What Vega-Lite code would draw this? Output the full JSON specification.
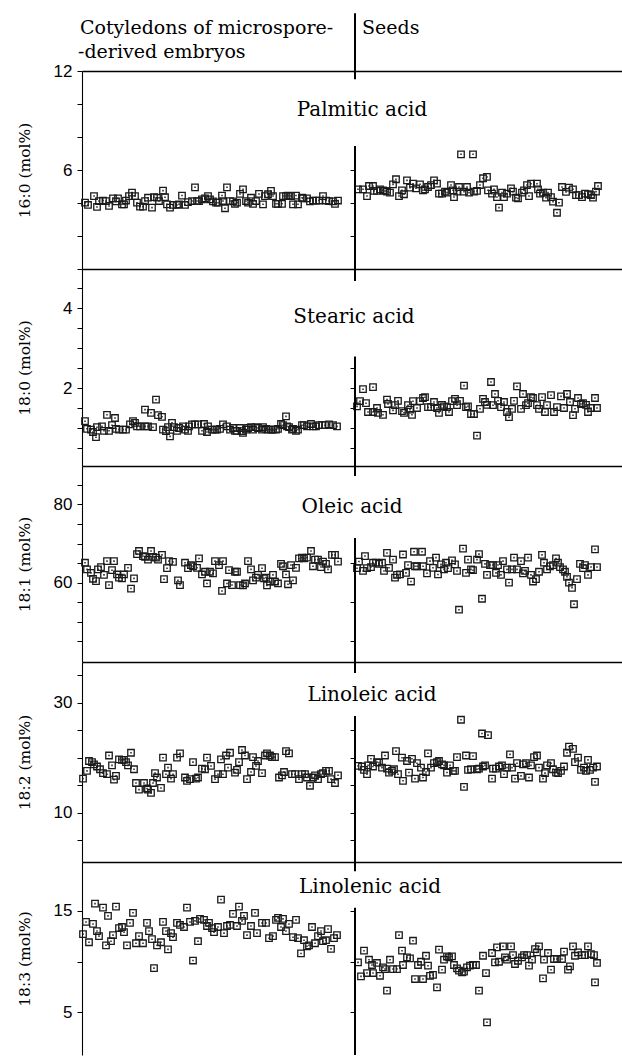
{
"$schema": "https://vega.github.io/schema/vega-lite/v6.json",
"padding": {"left": 17, "top": 12, "right": 0, "bottom": 0},
"background": "white",
"columns": 2,
"spacing": 0,
"bounds": "flush",
"align": "each",
"config": {
  "view": {"stroke": null},
  "font": "DejaVu Serif",
  "axis": {"domainColor": "black", "tickColor": "black", "labelColor": "black", "titleColor": "black", "grid": false, "labelFont": "Liberation Sans", "labelFontSize": 17, "titleFont": "DejaVu Serif", "titleFontSize": 15.5, "titleFontWeight": "normal", "tickSize": 5, "labelPadding": 5, "minExtent": 30, "maxExtent": 30, "titlePadding": 20, "domainWidth": 1.1, "tickWidth": 1, "labelOverlap": false}
},
"datasets": {
"e1": [{"i":3,"v":4.02},{"i":6,"v":3.88},{"i":12,"v":4.42},{"i":15,"v":3.76},{"i":17,"v":4.12},{"i":21,"v":4.15},{"i":24,"v":4.12},{"i":27,"v":3.82},{"i":31,"v":4.28},{"i":34,"v":4.1},{"i":36,"v":4.28},{"i":40,"v":3.92},{"i":42,"v":3.92},{"i":44,"v":4.15},{"i":47,"v":4.42},{"i":50,"v":4.63},{"i":53,"v":4.42},{"i":55,"v":4.02},{"i":58,"v":3.78},{"i":61,"v":3.78},{"i":63,"v":4.12},{"i":66,"v":4.32},{"i":70,"v":3.72},{"i":72,"v":4.35},{"i":75,"v":4.32},{"i":77,"v":4.12},{"i":81,"v":4.75},{"i":83,"v":4.35},{"i":85,"v":3.92},{"i":88,"v":3.72},{"i":91,"v":3.88},{"i":95,"v":3.88},{"i":97,"v":3.92},{"i":100,"v":4.45},{"i":103,"v":3.88},{"i":106,"v":4.05},{"i":110,"v":4.12},{"i":113,"v":4.95},{"i":115,"v":4.12},{"i":117,"v":4.12},{"i":120,"v":4.22},{"i":123,"v":4.28},{"i":126,"v":4.42},{"i":128,"v":4.22},{"i":131,"v":4.1},{"i":134,"v":4.02},{"i":136,"v":4.02},{"i":140,"v":4.45},{"i":141,"v":4.12},{"i":143,"v":3.68},{"i":145,"v":4.95},{"i":148,"v":4.12},{"i":151,"v":4.1},{"i":153,"v":3.95},{"i":155,"v":4.02},{"i":158,"v":4.55},{"i":161,"v":4.83},{"i":164,"v":4.12},{"i":166,"v":4.02},{"i":169,"v":4.32},{"i":171,"v":3.95},{"i":174,"v":4.12},{"i":177,"v":4.55},{"i":181,"v":3.92},{"i":183,"v":4.42},{"i":186,"v":4.53},{"i":189,"v":4.73},{"i":191,"v":4.42},{"i":194,"v":3.95},{"i":196,"v":3.95},{"i":200,"v":3.95},{"i":201,"v":4.42},{"i":204,"v":4.42},{"i":206,"v":4.45},{"i":209,"v":4.42},{"i":211,"v":3.92},{"i":214,"v":4.45},{"i":216,"v":3.92},{"i":220,"v":4.32},{"i":221,"v":4.28},{"i":225,"v":4.28},{"i":228,"v":4.1},{"i":231,"v":4.15},{"i":234,"v":4.15},{"i":237,"v":4.15},{"i":241,"v":4.42},{"i":244,"v":4.15},{"i":247,"v":4.12},{"i":251,"v":4.1},{"i":253,"v":3.95},{"i":256,"v":4.15}],
"s1": [{"i":3,"v":4.83},{"i":8,"v":4.83},{"i":12,"v":4.42},{"i":14,"v":5.03},{"i":18,"v":5.03},{"i":19,"v":4.73},{"i":22,"v":4.73},{"i":25,"v":4.83},{"i":28,"v":4.77},{"i":30,"v":4.73},{"i":32,"v":4.69},{"i":35,"v":4.63},{"i":38,"v":5.13},{"i":41,"v":5.44},{"i":44,"v":4.42},{"i":47,"v":4.77},{"i":49,"v":4.53},{"i":52,"v":5.37},{"i":55,"v":4.93},{"i":58,"v":5.17},{"i":61,"v":4.89},{"i":65,"v":5.13},{"i":68,"v":4.77},{"i":70,"v":4.83},{"i":73,"v":4.97},{"i":76,"v":5.09},{"i":79,"v":5.37},{"i":82,"v":5.17},{"i":84,"v":4.57},{"i":87,"v":4.57},{"i":90,"v":4.69},{"i":92,"v":4.63},{"i":96,"v":5.09},{"i":98,"v":4.77},{"i":99,"v":4.36},{"i":102,"v":4.69},{"i":104,"v":4.97},{"i":106,"v":6.95},{"i":109,"v":4.69},{"i":112,"v":4.97},{"i":114,"v":4.63},{"i":118,"v":6.95},{"i":119,"v":4.69},{"i":122,"v":4.73},{"i":125,"v":5.09},{"i":128,"v":5.5},{"i":132,"v":5.58},{"i":133,"v":4.77},{"i":137,"v":4.57},{"i":139,"v":4.83},{"i":142,"v":4.36},{"i":144,"v":3.72},{"i":147,"v":4.63},{"i":149,"v":4.36},{"i":152,"v":4.57},{"i":156,"v":4.89},{"i":158,"v":4.69},{"i":161,"v":4.32},{"i":163,"v":4.28},{"i":167,"v":4.63},{"i":169,"v":4.77},{"i":172,"v":5.09},{"i":174,"v":4.42},{"i":176,"v":5.17},{"i":182,"v":5.17},{"i":183,"v":4.83},{"i":185,"v":4.57},{"i":188,"v":4.63},{"i":191,"v":4.32},{"i":193,"v":4.63},{"i":196,"v":4.36},{"i":198,"v":4.08},{"i":202,"v":3.41},{"i":204,"v":4.02},{"i":207,"v":4.97},{"i":211,"v":4.67},{"i":214,"v":4.93},{"i":218,"v":4.83},{"i":221,"v":4.48},{"i":224,"v":4.48},{"i":227,"v":4.36},{"i":230,"v":4.57},{"i":233,"v":4.53},{"i":236,"v":4.48},{"i":238,"v":4.32},{"i":241,"v":4.69},{"i":243,"v":5.03}],
"e2": [{"i":3,"v":1.17},{"i":5,"v":0.98},{"i":9,"v":0.96},{"i":11,"v":0.9},{"i":14,"v":0.77},{"i":15,"v":1.02},{"i":20,"v":1.04},{"i":22,"v":0.93},{"i":25,"v":1.33},{"i":27,"v":0.93},{"i":30,"v":1.07},{"i":33,"v":1.25},{"i":34,"v":0.98},{"i":37,"v":0.96},{"i":41,"v":0.96},{"i":44,"v":0.96},{"i":48,"v":1.09},{"i":51,"v":1.17},{"i":53,"v":1.13},{"i":55,"v":1.04},{"i":58,"v":1.04},{"i":63,"v":1.04},{"i":63,"v":1.46},{"i":66,"v":1.04},{"i":69,"v":1.38},{"i":71,"v":1.02},{"i":74,"v":1.71},{"i":76,"v":1.32},{"i":80,"v":1.28},{"i":81,"v":0.96},{"i":84,"v":0.92},{"i":86,"v":1.02},{"i":88,"v":0.79},{"i":90,"v":1.13},{"i":92,"v":1.02},{"i":95,"v":0.93},{"i":97,"v":1.0},{"i":101,"v":1.04},{"i":103,"v":0.96},{"i":106,"v":0.93},{"i":107,"v":1.04},{"i":110,"v":1.09},{"i":113,"v":1.09},{"i":116,"v":1.09},{"i":120,"v":0.93},{"i":122,"v":1.1},{"i":125,"v":0.9},{"i":126,"v":1.04},{"i":130,"v":0.96},{"i":133,"v":0.96},{"i":135,"v":0.96},{"i":138,"v":0.98},{"i":141,"v":1.09},{"i":145,"v":1.04},{"i":148,"v":0.96},{"i":151,"v":1.0},{"i":153,"v":0.93},{"i":155,"v":0.93},{"i":158,"v":1.0},{"i":160,"v":0.92},{"i":161,"v":0.88},{"i":164,"v":0.96},{"i":166,"v":1.0},{"i":169,"v":1.02},{"i":171,"v":0.96},{"i":174,"v":1.02},{"i":176,"v":1.0},{"i":180,"v":0.96},{"i":181,"v":1.02},{"i":184,"v":0.98},{"i":186,"v":0.96},{"i":189,"v":0.96},{"i":191,"v":0.96},{"i":194,"v":0.96},{"i":196,"v":0.98},{"i":199,"v":1.1},{"i":201,"v":1.07},{"i":204,"v":1.29},{"i":205,"v":1.04},{"i":207,"v":1.02},{"i":210,"v":0.96},{"i":211,"v":0.98},{"i":214,"v":0.93},{"i":216,"v":0.96},{"i":220,"v":1.07},{"i":222,"v":1.07},{"i":225,"v":1.04},{"i":229,"v":1.1},{"i":231,"v":1.04},{"i":234,"v":1.04},{"i":237,"v":1.07},{"i":240,"v":1.07},{"i":243,"v":1.07},{"i":247,"v":1.09},{"i":251,"v":1.07},{"i":255,"v":1.04}],
"s2": [{"i":2,"v":1.54},{"i":5,"v":1.67},{"i":8,"v":1.97},{"i":11,"v":1.62},{"i":13,"v":1.4},{"i":18,"v":2.02},{"i":18,"v":1.4},{"i":23,"v":1.38},{"i":22,"v":1.5},{"i":28,"v":1.33},{"i":32,"v":1.71},{"i":33,"v":1.6},{"i":38,"v":1.44},{"i":40,"v":1.57},{"i":43,"v":1.68},{"i":47,"v":1.42},{"i":49,"v":1.38},{"i":53,"v":1.57},{"i":55,"v":1.46},{"i":57,"v":1.33},{"i":58,"v":1.67},{"i":62,"v":1.5},{"i":65,"v":1.67},{"i":68,"v":1.75},{"i":70,"v":1.77},{"i":73,"v":1.52},{"i":76,"v":1.52},{"i":79,"v":1.65},{"i":82,"v":1.5},{"i":84,"v":1.38},{"i":87,"v":1.58},{"i":89,"v":1.54},{"i":92,"v":1.52},{"i":94,"v":1.4},{"i":97,"v":1.67},{"i":100,"v":1.73},{"i":102,"v":1.57},{"i":105,"v":1.68},{"i":109,"v":2.06},{"i":111,"v":1.52},{"i":113,"v":1.54},{"i":116,"v":1.35},{"i":119,"v":1.35},{"i":122,"v":0.81},{"i":125,"v":1.48},{"i":128,"v":1.73},{"i":130,"v":1.65},{"i":132,"v":1.58},{"i":136,"v":2.15},{"i":138,"v":1.57},{"i":140,"v":1.85},{"i":143,"v":1.68},{"i":146,"v":1.52},{"i":149,"v":1.65},{"i":152,"v":1.4},{"i":154,"v":1.27},{"i":157,"v":1.48},{"i":159,"v":1.68},{"i":162,"v":2.04},{"i":166,"v":1.48},{"i":168,"v":1.85},{"i":171,"v":1.57},{"i":173,"v":1.62},{"i":176,"v":1.77},{"i":178,"v":1.75},{"i":182,"v":1.57},{"i":184,"v":1.48},{"i":187,"v":1.77},{"i":190,"v":1.4},{"i":192,"v":1.57},{"i":196,"v":1.82},{"i":199,"v":1.4},{"i":202,"v":1.52},{"i":206,"v":1.79},{"i":209,"v":1.5},{"i":212,"v":1.85},{"i":215,"v":1.65},{"i":218,"v":1.32},{"i":220,"v":1.48},{"i":223,"v":1.75},{"i":226,"v":1.6},{"i":228,"v":1.62},{"i":231,"v":1.58},{"i":233,"v":1.4},{"i":236,"v":1.5},{"i":240,"v":1.75},{"i":242,"v":1.5}],
"e3": [{"i":3,"v":65.1},{"i":5,"v":63.4},{"i":9,"v":62.5},{"i":11,"v":61.0},{"i":14,"v":60.4},{"i":16,"v":63.4},{"i":19,"v":64.0},{"i":22,"v":62.0},{"i":25,"v":65.5},{"i":27,"v":59.4},{"i":30,"v":63.2},{"i":32,"v":65.5},{"i":35,"v":62.1},{"i":37,"v":61.3},{"i":40,"v":61.1},{"i":42,"v":62.1},{"i":46,"v":63.8},{"i":49,"v":58.5},{"i":52,"v":61.1},{"i":55,"v":67.3},{"i":57,"v":68.1},{"i":61,"v":66.8},{"i":63,"v":66.6},{"i":66,"v":65.9},{"i":69,"v":68.1},{"i":71,"v":66.6},{"i":74,"v":66.4},{"i":76,"v":65.9},{"i":80,"v":67.1},{"i":82,"v":60.9},{"i":85,"v":63.7},{"i":87,"v":65.5},{"i":91,"v":65.3},{"i":96,"v":60.6},{"i":98,"v":59.4},{"i":103,"v":65.1},{"i":106,"v":63.7},{"i":109,"v":64.5},{"i":111,"v":64.2},{"i":115,"v":63.8},{"i":117,"v":66.2},{"i":120,"v":62.1},{"i":123,"v":62.8},{"i":125,"v":59.8},{"i":128,"v":62.8},{"i":131,"v":62.4},{"i":133,"v":65.5},{"i":137,"v":64.5},{"i":141,"v":65.5},{"i":140,"v":57.9},{"i":145,"v":59.8},{"i":147,"v":63.2},{"i":150,"v":59.4},{"i":153,"v":62.8},{"i":155,"v":62.8},{"i":158,"v":59.4},{"i":161,"v":59.3},{"i":163,"v":59.8},{"i":166,"v":65.5},{"i":169,"v":63.4},{"i":171,"v":60.6},{"i":174,"v":61.3},{"i":176,"v":62.0},{"i":180,"v":63.7},{"i":182,"v":61.1},{"i":184,"v":61.3},{"i":185,"v":59.3},{"i":188,"v":60.3},{"i":191,"v":62.0},{"i":193,"v":60.3},{"i":196,"v":59.8},{"i":199,"v":64.8},{"i":201,"v":64.2},{"i":204,"v":62.1},{"i":206,"v":59.6},{"i":209,"v":64.5},{"i":211,"v":60.6},{"i":214,"v":63.8},{"i":217,"v":66.2},{"i":220,"v":66.4},{"i":222,"v":66.2},{"i":225,"v":66.4},{"i":229,"v":68.1},{"i":231,"v":64.2},{"i":233,"v":65.9},{"i":236,"v":65.9},{"i":239,"v":64.0},{"i":241,"v":65.4},{"i":244,"v":64.8},{"i":246,"v":63.4},{"i":250,"v":67.1},{"i":253,"v":67.1},{"i":256,"v":65.4}],
"s3": [{"i":2,"v":63.7},{"i":4,"v":65.4},{"i":8,"v":63.0},{"i":10,"v":66.8},{"i":12,"v":63.7},{"i":16,"v":64.0},{"i":18,"v":65.1},{"i":21,"v":65.1},{"i":24,"v":64.8},{"i":27,"v":65.1},{"i":29,"v":63.0},{"i":32,"v":67.6},{"i":34,"v":63.8},{"i":38,"v":65.9},{"i":40,"v":61.3},{"i":42,"v":62.0},{"i":45,"v":62.1},{"i":48,"v":67.2},{"i":51,"v":62.5},{"i":53,"v":64.5},{"i":56,"v":60.3},{"i":59,"v":67.9},{"i":60,"v":64.2},{"i":62,"v":64.2},{"i":67,"v":67.9},{"i":68,"v":64.2},{"i":72,"v":62.4},{"i":75,"v":65.5},{"i":78,"v":63.8},{"i":81,"v":66.4},{"i":83,"v":62.1},{"i":86,"v":64.7},{"i":89,"v":63.4},{"i":91,"v":65.1},{"i":93,"v":63.7},{"i":97,"v":65.7},{"i":100,"v":64.7},{"i":102,"v":63.0},{"i":104,"v":53.1},{"i":108,"v":68.7},{"i":111,"v":62.5},{"i":113,"v":65.9},{"i":116,"v":63.4},{"i":118,"v":63.2},{"i":122,"v":65.9},{"i":124,"v":67.3},{"i":127,"v":55.9},{"i":130,"v":64.8},{"i":132,"v":62.0},{"i":135,"v":64.5},{"i":138,"v":64.5},{"i":141,"v":62.5},{"i":143,"v":64.5},{"i":146,"v":62.0},{"i":148,"v":65.5},{"i":152,"v":63.4},{"i":154,"v":60.0},{"i":157,"v":63.4},{"i":159,"v":66.4},{"i":162,"v":63.4},{"i":166,"v":65.5},{"i":168,"v":62.4},{"i":170,"v":63.0},{"i":173,"v":66.4},{"i":176,"v":62.0},{"i":178,"v":60.3},{"i":181,"v":60.9},{"i":184,"v":62.8},{"i":187,"v":67.1},{"i":189,"v":65.1},{"i":192,"v":63.4},{"i":195,"v":64.2},{"i":198,"v":64.5},{"i":201,"v":66.2},{"i":203,"v":65.1},{"i":205,"v":64.0},{"i":208,"v":63.4},{"i":210,"v":62.8},{"i":212,"v":61.5},{"i":214,"v":60.0},{"i":217,"v":58.7},{"i":219,"v":54.5},{"i":222,"v":60.9},{"i":225,"v":64.8},{"i":228,"v":63.7},{"i":230,"v":64.5},{"i":233,"v":62.0},{"i":236,"v":64.0},{"i":240,"v":68.5},{"i":242,"v":64.0}],
"e4": [{"i":1,"v":16.2},{"i":5,"v":17.6},{"i":7,"v":19.4},{"i":10,"v":19.2},{"i":12,"v":18.8},{"i":15,"v":18.4},{"i":18,"v":17.9},{"i":21,"v":17.2},{"i":25,"v":17.0},{"i":27,"v":20.4},{"i":30,"v":18.6},{"i":32,"v":16.0},{"i":34,"v":16.7},{"i":37,"v":19.7},{"i":40,"v":19.6},{"i":42,"v":19.6},{"i":44,"v":19.2},{"i":46,"v":18.6},{"i":49,"v":20.9},{"i":52,"v":17.9},{"i":54,"v":15.4},{"i":57,"v":14.2},{"i":62,"v":15.4},{"i":65,"v":14.4},{"i":66,"v":14.2},{"i":69,"v":13.6},{"i":71,"v":15.4},{"i":73,"v":17.2},{"i":75,"v":16.4},{"i":79,"v":14.5},{"i":81,"v":20.0},{"i":84,"v":17.0},{"i":86,"v":18.2},{"i":89,"v":16.2},{"i":91,"v":17.0},{"i":95,"v":20.0},{"i":98,"v":20.8},{"i":103,"v":16.4},{"i":105,"v":15.8},{"i":108,"v":16.1},{"i":111,"v":19.2},{"i":114,"v":16.2},{"i":116,"v":16.4},{"i":120,"v":18.0},{"i":123,"v":17.9},{"i":125,"v":20.0},{"i":129,"v":18.5},{"i":133,"v":16.1},{"i":136,"v":17.0},{"i":141,"v":17.0},{"i":139,"v":19.7},{"i":144,"v":20.4},{"i":148,"v":20.9},{"i":146,"v":18.2},{"i":153,"v":17.3},{"i":155,"v":17.8},{"i":157,"v":19.2},{"i":160,"v":21.4},{"i":163,"v":20.4},{"i":165,"v":16.1},{"i":169,"v":17.4},{"i":171,"v":20.1},{"i":174,"v":18.5},{"i":176,"v":19.4},{"i":180,"v":17.2},{"i":183,"v":20.4},{"i":185,"v":20.8},{"i":188,"v":20.4},{"i":190,"v":20.1},{"i":193,"v":20.1},{"i":197,"v":16.4},{"i":200,"v":16.8},{"i":202,"v":17.4},{"i":204,"v":21.2},{"i":207,"v":20.8},{"i":210,"v":17.0},{"i":213,"v":17.0},{"i":217,"v":16.1},{"i":220,"v":17.0},{"i":223,"v":17.0},{"i":225,"v":16.4},{"i":228,"v":14.9},{"i":231,"v":16.4},{"i":233,"v":16.8},{"i":236,"v":16.1},{"i":239,"v":17.0},{"i":241,"v":17.2},{"i":244,"v":17.6},{"i":247,"v":17.6},{"i":249,"v":16.1},{"i":253,"v":15.4},{"i":256,"v":16.8}],
"s4": [{"i":3,"v":18.5},{"i":7,"v":18.4},{"i":9,"v":17.8},{"i":12,"v":17.0},{"i":13,"v":18.6},{"i":16,"v":19.8},{"i":18,"v":18.4},{"i":22,"v":19.2},{"i":24,"v":19.1},{"i":27,"v":18.2},{"i":30,"v":20.4},{"i":32,"v":18.0},{"i":34,"v":17.3},{"i":37,"v":17.6},{"i":39,"v":17.9},{"i":41,"v":21.2},{"i":43,"v":17.0},{"i":47,"v":20.0},{"i":48,"v":15.8},{"i":52,"v":19.4},{"i":54,"v":17.3},{"i":57,"v":19.8},{"i":60,"v":16.2},{"i":62,"v":19.0},{"i":66,"v":18.2},{"i":68,"v":16.4},{"i":71,"v":17.4},{"i":73,"v":20.8},{"i":76,"v":18.2},{"i":79,"v":19.0},{"i":82,"v":19.2},{"i":84,"v":19.4},{"i":87,"v":18.8},{"i":89,"v":18.6},{"i":92,"v":17.3},{"i":95,"v":18.6},{"i":98,"v":17.6},{"i":100,"v":17.6},{"i":102,"v":20.1},{"i":106,"v":26.9},{"i":109,"v":14.7},{"i":111,"v":20.4},{"i":113,"v":17.8},{"i":116,"v":17.9},{"i":118,"v":20.3},{"i":122,"v":17.9},{"i":124,"v":18.0},{"i":127,"v":24.4},{"i":128,"v":18.4},{"i":130,"v":18.6},{"i":133,"v":24.1},{"i":137,"v":16.2},{"i":138,"v":18.0},{"i":141,"v":18.0},{"i":144,"v":18.4},{"i":147,"v":18.6},{"i":149,"v":17.0},{"i":152,"v":18.2},{"i":155,"v":20.6},{"i":157,"v":18.2},{"i":160,"v":16.2},{"i":162,"v":19.0},{"i":166,"v":16.7},{"i":168,"v":18.8},{"i":171,"v":19.0},{"i":174,"v":16.4},{"i":176,"v":18.6},{"i":179,"v":20.1},{"i":182,"v":20.4},{"i":184,"v":18.2},{"i":188,"v":16.2},{"i":190,"v":17.2},{"i":192,"v":18.6},{"i":196,"v":19.0},{"i":198,"v":17.9},{"i":201,"v":17.3},{"i":203,"v":17.2},{"i":206,"v":17.6},{"i":209,"v":18.4},{"i":212,"v":20.9},{"i":214,"v":22.0},{"i":218,"v":21.6},{"i":220,"v":19.2},{"i":223,"v":20.0},{"i":226,"v":17.8},{"i":229,"v":18.2},{"i":231,"v":17.6},{"i":233,"v":19.6},{"i":235,"v":17.8},{"i":238,"v":18.2},{"i":240,"v":15.6},{"i":242,"v":18.4}],
"e5": [{"i":1,"v":12.7},{"i":4,"v":13.9},{"i":7,"v":11.9},{"i":11,"v":13.7},{"i":13,"v":15.7},{"i":15,"v":13.0},{"i":17,"v":12.5},{"i":21,"v":15.3},{"i":24,"v":11.6},{"i":26,"v":14.5},{"i":29,"v":12.0},{"i":31,"v":12.6},{"i":34,"v":15.4},{"i":37,"v":13.3},{"i":40,"v":13.4},{"i":42,"v":12.9},{"i":45,"v":11.6},{"i":48,"v":13.8},{"i":51,"v":14.8},{"i":54,"v":11.8},{"i":57,"v":12.5},{"i":61,"v":11.8},{"i":65,"v":13.8},{"i":67,"v":13.0},{"i":70,"v":12.2},{"i":72,"v":9.35},{"i":75,"v":11.6},{"i":79,"v":11.9},{"i":81,"v":13.9},{"i":84,"v":13.0},{"i":86,"v":11.2},{"i":89,"v":12.8},{"i":91,"v":12.4},{"i":95,"v":13.8},{"i":98,"v":13.6},{"i":102,"v":13.4},{"i":105,"v":15.3},{"i":108,"v":13.9},{"i":111,"v":10.1},{"i":113,"v":14.0},{"i":116,"v":12.0},{"i":118,"v":14.2},{"i":122,"v":14.1},{"i":125,"v":13.5},{"i":127,"v":13.8},{"i":130,"v":13.3},{"i":132,"v":12.9},{"i":136,"v":13.4},{"i":139,"v":16.1},{"i":142,"v":12.8},{"i":145,"v":13.5},{"i":148,"v":13.6},{"i":151,"v":14.7},{"i":155,"v":13.5},{"i":157,"v":15.4},{"i":160,"v":14.0},{"i":162,"v":14.5},{"i":165,"v":12.6},{"i":169,"v":13.5},{"i":173,"v":14.8},{"i":175,"v":12.8},{"i":180,"v":13.8},{"i":184,"v":13.8},{"i":187,"v":12.3},{"i":191,"v":12.5},{"i":194,"v":14.1},{"i":196,"v":14.3},{"i":199,"v":13.4},{"i":201,"v":14.2},{"i":204,"v":13.0},{"i":207,"v":13.7},{"i":211,"v":12.4},{"i":214,"v":14.1},{"i":216,"v":12.3},{"i":219,"v":10.8},{"i":222,"v":12.1},{"i":225,"v":11.5},{"i":227,"v":11.6},{"i":230,"v":13.4},{"i":233,"v":11.8},{"i":236,"v":12.5},{"i":239,"v":13.0},{"i":241,"v":12.0},{"i":244,"v":12.1},{"i":246,"v":13.2},{"i":249,"v":11.25},{"i":252,"v":12.3},{"i":255,"v":12.6}],
"s5": [{"i":3,"v":9.92},{"i":6,"v":8.54},{"i":9,"v":11.07},{"i":12,"v":8.87},{"i":14,"v":10.18},{"i":17,"v":9.66},{"i":18,"v":8.87},{"i":22,"v":9.86},{"i":25,"v":8.6},{"i":28,"v":9.43},{"i":30,"v":9.26},{"i":32,"v":7.13},{"i":35,"v":10.18},{"i":38,"v":9.26},{"i":42,"v":9.26},{"i":44,"v":12.6},{"i":47,"v":11.07},{"i":48,"v":9.66},{"i":52,"v":10.41},{"i":55,"v":10.31},{"i":58,"v":12.05},{"i":60,"v":8.28},{"i":63,"v":9.66},{"i":66,"v":9.98},{"i":68,"v":8.28},{"i":71,"v":10.57},{"i":73,"v":9.59},{"i":75,"v":8.6},{"i":78,"v":8.68},{"i":82,"v":7.46},{"i":84,"v":11.17},{"i":87,"v":9.2},{"i":89,"v":10.18},{"i":92,"v":10.51},{"i":94,"v":10.41},{"i":97,"v":10.51},{"i":99,"v":9.66},{"i":102,"v":9.33},{"i":104,"v":9.1},{"i":107,"v":8.93},{"i":109,"v":9.0},{"i":112,"v":9.43},{"i":115,"v":9.59},{"i":118,"v":9.66},{"i":121,"v":9.66},{"i":124,"v":7.13},{"i":128,"v":10.57},{"i":131,"v":8.87},{"i":132,"v":4.02},{"i":137,"v":10.84},{"i":140,"v":9.92},{"i":142,"v":11.39},{"i":144,"v":9.98},{"i":148,"v":11.49},{"i":150,"v":10.41},{"i":152,"v":10.18},{"i":156,"v":11.49},{"i":158,"v":10.64},{"i":160,"v":9.76},{"i":163,"v":10.08},{"i":167,"v":10.41},{"i":169,"v":10.64},{"i":172,"v":10.64},{"i":174,"v":9.59},{"i":177,"v":10.18},{"i":180,"v":11.23},{"i":182,"v":10.9},{"i":184,"v":11.49},{"i":188,"v":8.35},{"i":189,"v":10.18},{"i":193,"v":10.84},{"i":196,"v":9.2},{"i":199,"v":10.25},{"i":202,"v":10.25},{"i":207,"v":10.25},{"i":209,"v":10.97},{"i":213,"v":9.2},{"i":215,"v":9.53},{"i":218,"v":11.49},{"i":220,"v":10.57},{"i":223,"v":10.9},{"i":227,"v":10.64},{"i":230,"v":10.64},{"i":233,"v":11.49},{"i":236,"v":10.74},{"i":239,"v":10.64},{"i":240,"v":7.95},{"i":242,"v":9.86}]
},
"concat": [
{"width": 273, "height": 198, "data": {"name": "e1"},
 "encoding": {"x": {"field": "i", "type": "quantitative", "scale": {"domain": [0, 273], "nice": false}, "axis": {"orient": "top", "domain": true, "ticks": false, "labels": false, "title": null, "domainWidth": 1.3, "minExtent": 0, "maxExtent": 0}},
  "y": {"field": "v", "type": "quantitative", "scale": {"domain": [0, 12], "nice": false, "zero": false}, "axis": {"title": "16:0 (mol%)", "values": [0, 2, 4, 6, 8, 10, 12], "labelExpr": "datum.value == 6 ? '6' : datum.value == 12 ? '12' : ''"}}},
 "layer": [{"mark": {"type": "point", "shape": "square", "filled": false, "stroke": "#1a1a1a", "strokeWidth": 1.3, "size": 42, "opacity": 1}},
  {"mark": {"type": "point", "shape": "square", "filled": true, "fill": "#1a1a1a", "size": 2.5, "strokeWidth": 0, "opacity": 0.9}}]},
{"width": 267, "height": 198,
 "layer": [
  {"data": {"name": "s1"}, "mark": {"type": "point", "shape": "square", "filled": false, "stroke": "#1a1a1a", "strokeWidth": 1.3, "size": 42, "opacity": 1},
   "encoding": {"x": {"field": "i", "type": "quantitative", "scale": {"domain": [0, 267], "nice": false}, "axis": {"orient": "top", "domain": true, "ticks": false, "labels": false, "title": null, "domainWidth": 1.3, "minExtent": 0, "maxExtent": 0}},
    "y": {"field": "v", "type": "quantitative", "scale": {"domain": [0, 12], "nice": false, "zero": false}, "axis": {"title": null, "domain": false, "labels": false, "values": [0, 1, 2, 3, 4, 5, 6, 7]}}}},
  {"data": {"name": "s1"}, "mark": {"type": "point", "shape": "square", "filled": true, "fill": "#1a1a1a", "size": 2.5, "strokeWidth": 0, "opacity": 0.9},
   "encoding": {"x": {"field": "i", "type": "quantitative"}, "y": {"field": "v", "type": "quantitative"}}},
  {"data": {"values": [{}]}, "mark": {"type": "rule", "color": "black", "strokeWidth": 2}, "encoding": {"x": {"datum": 0}, "y": {"datum": 7.45}, "y2": {"datum": 0}}},
  {"data": {"values": [{}]}, "mark": {"type": "rule", "color": "black", "strokeWidth": 2}, "encoding": {"x": {"datum": 0}, "y": {"datum": 15.5}, "y2": {"datum": 11.5}}},
  {"data": {"values": [{}]}, "mark": {"type": "text", "font": "DejaVu Serif", "fontSize": 19, "align": "left", "baseline": "alphabetic", "color": "black"}, "encoding": {"x": {"datum": -275}, "y": {"datum": 14.24}, "text": {"value": "Cotyledons of microspore-"}}},
  {"data": {"values": [{}]}, "mark": {"type": "text", "font": "DejaVu Serif", "fontSize": 19, "align": "left", "baseline": "alphabetic", "color": "black"}, "encoding": {"x": {"datum": -277}, "y": {"datum": 12.79}, "text": {"value": "-derived embryos"}}},
  {"data": {"values": [{}]}, "mark": {"type": "text", "font": "DejaVu Serif", "fontSize": 19, "align": "left", "baseline": "alphabetic", "color": "black"}, "encoding": {"x": {"datum": 7}, "y": {"datum": 14.24}, "text": {"value": "Seeds"}}},
  {"data": {"values": [{}]}, "mark": {"type": "text", "font": "DejaVu Serif", "fontSize": 20, "align": "center", "baseline": "alphabetic", "color": "black"}, "encoding": {"x": {"datum": 7}, "y": {"datum": 9.27}, "text": {"value": "Palmitic acid"}}}
 ]},
{"width": 273, "height": 197, "data": {"name": "e2"},
 "encoding": {"x": {"field": "i", "type": "quantitative", "scale": {"domain": [0, 273], "nice": false}, "axis": {"orient": "top", "domain": true, "ticks": false, "labels": false, "title": null, "domainWidth": 1.3, "minExtent": 0, "maxExtent": 0}},
  "y": {"field": "v", "type": "quantitative", "scale": {"domain": [0.05, 4.975], "nice": false, "zero": false}, "axis": {"title": "18:0 (mol%)", "values": [0.5, 1, 1.5, 2, 2.5, 3, 3.5, 4, 4.5], "labelExpr": "datum.value == 2 ? '2' : datum.value == 4 ? '4' : ''"}}},
 "layer": [{"mark": {"type": "point", "shape": "square", "filled": false, "stroke": "#1a1a1a", "strokeWidth": 1.3, "size": 42, "opacity": 1}},
  {"mark": {"type": "point", "shape": "square", "filled": true, "fill": "#1a1a1a", "size": 2.5, "strokeWidth": 0, "opacity": 0.9}}]},
{"width": 267, "height": 197,
 "layer": [
  {"data": {"name": "s2"}, "mark": {"type": "point", "shape": "square", "filled": false, "stroke": "#1a1a1a", "strokeWidth": 1.3, "size": 42, "opacity": 1},
   "encoding": {"x": {"field": "i", "type": "quantitative", "scale": {"domain": [0, 267], "nice": false}, "axis": {"orient": "top", "domain": true, "ticks": false, "labels": false, "title": null, "domainWidth": 1.3, "minExtent": 0, "maxExtent": 0}},
    "y": {"field": "v", "type": "quantitative", "scale": {"domain": [0.05, 4.975], "nice": false, "zero": false}, "axis": {"title": null, "domain": false, "labels": false, "values": [0.5, 1, 1.5, 2, 2.5]}}}},
  {"data": {"name": "s2"}, "mark": {"type": "point", "shape": "square", "filled": true, "fill": "#1a1a1a", "size": 2.5, "strokeWidth": 0, "opacity": 0.9},
   "encoding": {"x": {"field": "i", "type": "quantitative"}, "y": {"field": "v", "type": "quantitative"}}},
  {"data": {"values": [{}]}, "mark": {"type": "rule", "color": "black", "strokeWidth": 2}, "encoding": {"x": {"datum": 0}, "y": {"datum": 2.79}, "y2": {"datum": 0.05}}},
  {"data": {"values": [{}]}, "mark": {"type": "rule", "color": "black", "strokeWidth": 2}, "encoding": {"x": {"datum": 0}, "y": {"datum": 5.225}, "y2": {"datum": 4.675}}},
  {"data": {"values": [{}]}, "mark": {"type": "text", "font": "DejaVu Serif", "fontSize": 20, "align": "center", "baseline": "alphabetic", "color": "black"}, "encoding": {"x": {"datum": -1}, "y": {"datum": 3.62}, "text": {"value": "Stearic acid"}}}
 ]},
{"width": 273, "height": 196, "data": {"name": "e3"},
 "encoding": {"x": {"field": "i", "type": "quantitative", "scale": {"domain": [0, 273], "nice": false}, "axis": {"orient": "top", "domain": true, "ticks": false, "labels": false, "title": null, "domainWidth": 1.3, "minExtent": 0, "maxExtent": 0}},
  "y": {"field": "v", "type": "quantitative", "scale": {"domain": [39.75, 89.8], "nice": false, "zero": false}, "axis": {"title": "18:1 (mol%)", "values": [45, 50, 55, 60, 65, 70, 75, 80, 85], "labelExpr": "datum.value == 60 ? '60' : datum.value == 80 ? '80' : ''"}}},
 "layer": [{"mark": {"type": "point", "shape": "square", "filled": false, "stroke": "#1a1a1a", "strokeWidth": 1.3, "size": 42, "opacity": 1}},
  {"mark": {"type": "point", "shape": "square", "filled": true, "fill": "#1a1a1a", "size": 2.5, "strokeWidth": 0, "opacity": 0.9}}]},
{"width": 267, "height": 196,
 "layer": [
  {"data": {"name": "s3"}, "mark": {"type": "point", "shape": "square", "filled": false, "stroke": "#1a1a1a", "strokeWidth": 1.3, "size": 42, "opacity": 1},
   "encoding": {"x": {"field": "i", "type": "quantitative", "scale": {"domain": [0, 267], "nice": false}, "axis": {"orient": "top", "domain": true, "ticks": false, "labels": false, "title": null, "domainWidth": 1.3, "minExtent": 0, "maxExtent": 0}},
    "y": {"field": "v", "type": "quantitative", "scale": {"domain": [39.75, 89.8], "nice": false, "zero": false}, "axis": {"title": null, "domain": false, "labels": false, "values": [45, 50, 55, 60, 65, 70]}}}},
  {"data": {"name": "s3"}, "mark": {"type": "point", "shape": "square", "filled": true, "fill": "#1a1a1a", "size": 2.5, "strokeWidth": 0, "opacity": 0.9},
   "encoding": {"x": {"field": "i", "type": "quantitative"}, "y": {"field": "v", "type": "quantitative"}}},
  {"data": {"values": [{}]}, "mark": {"type": "rule", "color": "black", "strokeWidth": 2}, "encoding": {"x": {"datum": 0}, "y": {"datum": 71.4}, "y2": {"datum": 39.75}}},
  {"data": {"values": [{}]}, "mark": {"type": "rule", "color": "black", "strokeWidth": 2}, "encoding": {"x": {"datum": 0}, "y": {"datum": 92.9}, "y2": {"datum": 87.25}}},
  {"data": {"values": [{}]}, "mark": {"type": "text", "font": "DejaVu Serif", "fontSize": 20, "align": "center", "baseline": "alphabetic", "color": "black"}, "encoding": {"x": {"datum": -3}, "y": {"datum": 77.8}, "text": {"value": "Oleic acid"}}}
 ]},
{"width": 273, "height": 200, "data": {"name": "e4"},
 "encoding": {"x": {"field": "i", "type": "quantitative", "scale": {"domain": [0, 273], "nice": false}, "axis": {"orient": "top", "domain": true, "ticks": false, "labels": false, "title": null, "domainWidth": 1.3, "minExtent": 0, "maxExtent": 0}},
  "y": {"field": "v", "type": "quantitative", "scale": {"domain": [1.04, 37.4], "nice": false, "zero": false}, "axis": {"title": "18:2 (mol%)", "values": [5, 10, 15, 20, 25, 30, 35], "labelExpr": "datum.value == 10 ? '10' : datum.value == 30 ? '30' : ''"}}},
 "layer": [{"mark": {"type": "point", "shape": "square", "filled": false, "stroke": "#1a1a1a", "strokeWidth": 1.3, "size": 42, "opacity": 1}},
  {"mark": {"type": "point", "shape": "square", "filled": true, "fill": "#1a1a1a", "size": 2.5, "strokeWidth": 0, "opacity": 0.9}}]},
{"width": 267, "height": 200,
 "layer": [
  {"data": {"name": "s4"}, "mark": {"type": "point", "shape": "square", "filled": false, "stroke": "#1a1a1a", "strokeWidth": 1.3, "size": 42, "opacity": 1},
   "encoding": {"x": {"field": "i", "type": "quantitative", "scale": {"domain": [0, 267], "nice": false}, "axis": {"orient": "top", "domain": true, "ticks": false, "labels": false, "title": null, "domainWidth": 1.3, "minExtent": 0, "maxExtent": 0}},
    "y": {"field": "v", "type": "quantitative", "scale": {"domain": [1.04, 37.4], "nice": false, "zero": false}, "axis": {"title": null, "domain": false, "labels": false, "values": [5, 10, 15, 20, 25]}}}},
  {"data": {"name": "s4"}, "mark": {"type": "point", "shape": "square", "filled": true, "fill": "#1a1a1a", "size": 2.5, "strokeWidth": 0, "opacity": 0.9},
   "encoding": {"x": {"field": "i", "type": "quantitative"}, "y": {"field": "v", "type": "quantitative"}}},
  {"data": {"values": [{}]}, "mark": {"type": "rule", "color": "black", "strokeWidth": 2}, "encoding": {"x": {"datum": 0}, "y": {"datum": 27.6}, "y2": {"datum": 1.04}}},
  {"data": {"values": [{}]}, "mark": {"type": "rule", "color": "black", "strokeWidth": 2}, "encoding": {"x": {"datum": 0}, "y": {"datum": 39.76}, "y2": {"datum": 35.4}}},
  {"data": {"values": [{}]}, "mark": {"type": "text", "font": "DejaVu Serif", "fontSize": 20, "align": "center", "baseline": "alphabetic", "color": "black"}, "encoding": {"x": {"datum": 17}, "y": {"datum": 30.3}, "text": {"value": "Linoleic acid"}}}
 ]},
{"width": 273, "height": 193, "data": {"name": "e5"},
 "encoding": {"x": {"field": "i", "type": "quantitative", "scale": {"domain": [0, 273], "nice": false}, "axis": {"orient": "top", "domain": true, "ticks": false, "labels": false, "title": null, "domainWidth": 1.3, "minExtent": 0, "maxExtent": 0}},
  "y": {"field": "v", "type": "quantitative", "scale": {"domain": [0.8, 19.8], "nice": false, "zero": false}, "axis": {"title": "18:3 (mol%)", "values": [5, 10, 15], "labelExpr": "datum.value == 5 ? '5' : datum.value == 15 ? '15' : ''"}}},
 "layer": [{"mark": {"type": "point", "shape": "square", "filled": false, "stroke": "#1a1a1a", "strokeWidth": 1.3, "size": 42, "opacity": 1}},
  {"mark": {"type": "point", "shape": "square", "filled": true, "fill": "#1a1a1a", "size": 2.5, "strokeWidth": 0, "opacity": 0.9}}]},
{"width": 267, "height": 193,
 "layer": [
  {"data": {"name": "s5"}, "mark": {"type": "point", "shape": "square", "filled": false, "stroke": "#1a1a1a", "strokeWidth": 1.3, "size": 42, "opacity": 1},
   "encoding": {"x": {"field": "i", "type": "quantitative", "scale": {"domain": [0, 267], "nice": false}, "axis": {"orient": "top", "domain": true, "ticks": false, "labels": false, "title": null, "domainWidth": 1.3, "minExtent": 0, "maxExtent": 0}},
    "y": {"field": "v", "type": "quantitative", "scale": {"domain": [0.8, 19.8], "nice": false, "zero": false}, "axis": {"title": null, "domain": false, "labels": false, "values": [5, 10, 15]}}}},
  {"data": {"name": "s5"}, "mark": {"type": "point", "shape": "square", "filled": true, "fill": "#1a1a1a", "size": 2.5, "strokeWidth": 0, "opacity": 0.9},
   "encoding": {"x": {"field": "i", "type": "quantitative"}, "y": {"field": "v", "type": "quantitative"}}},
  {"data": {"values": [{}]}, "mark": {"type": "rule", "color": "black", "strokeWidth": 2}, "encoding": {"x": {"datum": 0}, "y": {"datum": 15.3}, "y2": {"datum": 0.8}}},
  {"data": {"values": [{}]}, "mark": {"type": "rule", "color": "black", "strokeWidth": 2}, "encoding": {"x": {"datum": 0}, "y": {"datum": 20.6}, "y2": {"datum": 18.9}}},
  {"data": {"values": [{}]}, "mark": {"type": "text", "font": "DejaVu Serif", "fontSize": 20, "align": "center", "baseline": "alphabetic", "color": "black"}, "encoding": {"x": {"datum": 15}, "y": {"datum": 16.75}, "text": {"value": "Linolenic acid"}}}
 ]}
]
}
